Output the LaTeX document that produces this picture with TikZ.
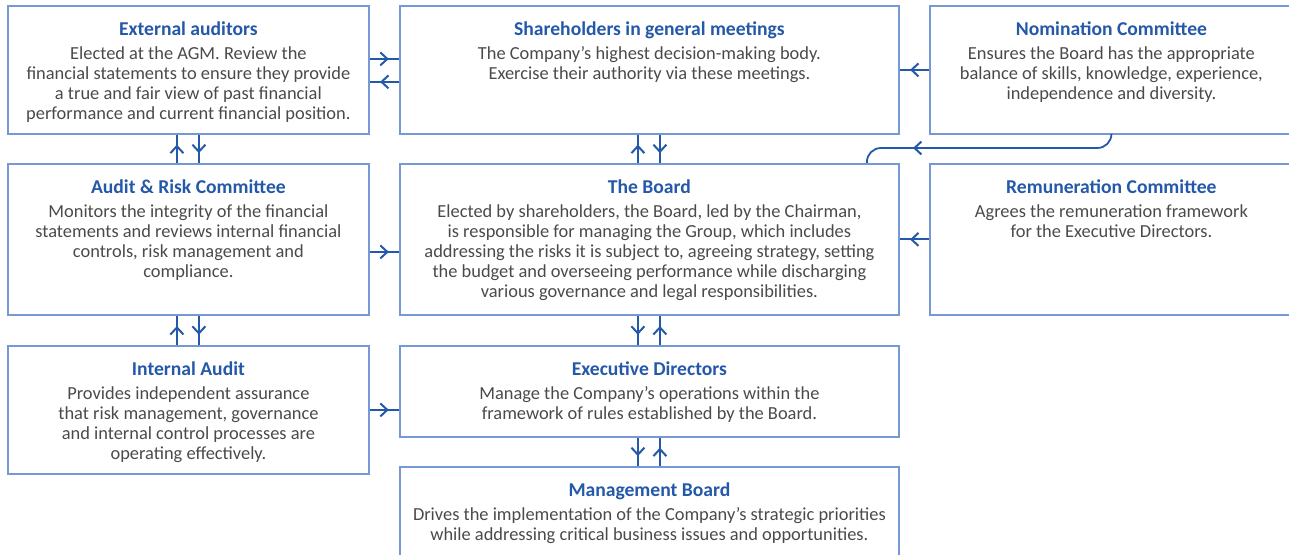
\documentclass[tikz,border=0pt]{standalone}
\usepackage{fontspec}
\setmainfont{Carlito}
\usetikzlibrary{arrows.meta,decorations.markings}
\definecolor{inkblue}{RGB}{36,88,168}
\definecolor{frameblue}{RGB}{118,152,212}
\definecolor{bodygrey}{RGB}{74,74,74}
\tikzset {>={Straight Barb[length=3.5pt,width=6.5pt,line width=1pt]},
  orgbox/.style={draw=frameblue,line width=.9pt,inner sep=0pt,anchor=north west},
  orgtext/.style={anchor=north,align=center,inner sep=0pt,text=bodygrey,
    font=\fontsize{9.2}{10}\selectfont},
  link/.style={draw=inkblue,line width=.9pt,postaction={decorate},
    decoration={markings,mark=at position #1 with {\arrow{>}}}},
  link/.default=.65}
\newcommand*{\hd}[1]{\textcolor{inkblue}{\fontsize{9.8}{10}\selectfont\bfseries #1}}
% box at top left corner: name, x, y, width, height, heading, text
\newcommand{\orgbox}[7]{%
  \node[orgbox,minimum width=#4*.5pt,minimum height=#5*.5pt] (#1) at (#2,#3) {};
  \node[orgtext] (#1-t) at ([yshift=-8pt]#1.north) {\hd{#6}\\[2pt]#7};}

\begin{document}
\begin{tikzpicture}[x=.5pt,y=-.5pt]
\useasboundingbox (0,0) rectangle (1289,555);
\clip (0,0) rectangle (1289,555);
% left column
\orgbox{ext}{7}{5}{361}{128}{External auditors}{Elected at the AGM. Review the\\
  financial statements to ensure they provide\\a true and fair view of past financial\\
  performance and current financial position.}
\orgbox{audit}{7}{163}{361}{151}{Audit \& Risk Committee}{Monitors the integrity of the financial\\
  statements and reviews internal financial\\controls, risk management and\\compliance.}
\orgbox{intaud}{7}{345}{361}{128}{Internal Audit}{Provides independent assurance\\
  that risk management, governance\\and internal control processes are\\operating effectively.}
% middle column
\orgbox{share}{399}{5}{499}{128}{Shareholders in general meetings}{The Company’s highest decision-making body.\\
  Exercise their authority via these meetings.}
\orgbox{board}{399}{163}{499}{151}{The Board}{Elected by shareholders, the Board, led by the Chairman,\\
  is responsible for managing the Group, which includes\\
  addressing the risks it is subject to, agreeing strategy, setting\\
  the budget and overseeing performance while discharging\\
  various governance and legal responsibilities.}
\orgbox{exec}{399}{345}{499}{91}{Executive Directors}{Manage the Company’s operations within the\\
  framework of rules established by the Board.}
\orgbox{mgmt}{399}{466}{499}{100}{Management Board}{Drives the implementation of the Company’s strategic priorities\\
  while addressing critical business issues and opportunities.}
% right column
\orgbox{nom}{929}{5}{363}{128}{Nomination Committee}{Ensures the Board has the appropriate\\
  balance of skills, knowledge, experience,\\independence and diversity.}
\orgbox{rem}{929}{163}{363}{151}{Remuneration Committee}{Agrees the remuneration framework\\
  for the Executive Directors.}

% links between the boxes
\path[link] ([yshift=5.5pt]ext.east) -- ([yshift=5.5pt]share.west);
\path[link] ([yshift=-6pt]share.west) -- ([yshift=-6pt]ext.east);
\path[link] (nom.west) -- (nom.west -| share.east);
\path[link=.79,rounded corners=7pt] (nom.south) |- ([xshift=108.75pt,yshift=7.5pt]board.north)
  -- ([xshift=108.75pt]board.north);
\path[link] ([xshift=-5.75pt]audit.north) -- ([xshift=-5.75pt]ext.south);
\path[link] ([xshift=5.25pt]ext.south) -- ([xshift=5.25pt]audit.north);
\path[link] ([xshift=-5.75pt]board.north) -- ([xshift=-5.75pt]share.south);
\path[link] ([xshift=5.25pt]share.south) -- ([xshift=5.25pt]board.north);
\path[link] ([yshift=-6.25pt]audit.east) -- ([yshift=-6.25pt]audit.east -| board.west);
\path[link] (rem.west) -- (rem.west -| board.east);
\path[link] ([xshift=-5.75pt]intaud.north) -- ([xshift=-5.75pt]audit.south);
\path[link] ([xshift=5.25pt]audit.south) -- ([xshift=5.25pt]intaud.north);
\path[link] (intaud.east) -- (intaud.east -| exec.west);
\path[link] ([xshift=-5.75pt]board.south) -- ([xshift=-5.75pt]exec.north);
\path[link] ([xshift=5.25pt]exec.north) -- ([xshift=5.25pt]board.south);
\path[link] ([xshift=-5.75pt]exec.south) -- ([xshift=-5.75pt]mgmt.north);
\path[link] ([xshift=5.25pt]mgmt.north) -- ([xshift=5.25pt]exec.south);
\end{tikzpicture}
\end{document}
